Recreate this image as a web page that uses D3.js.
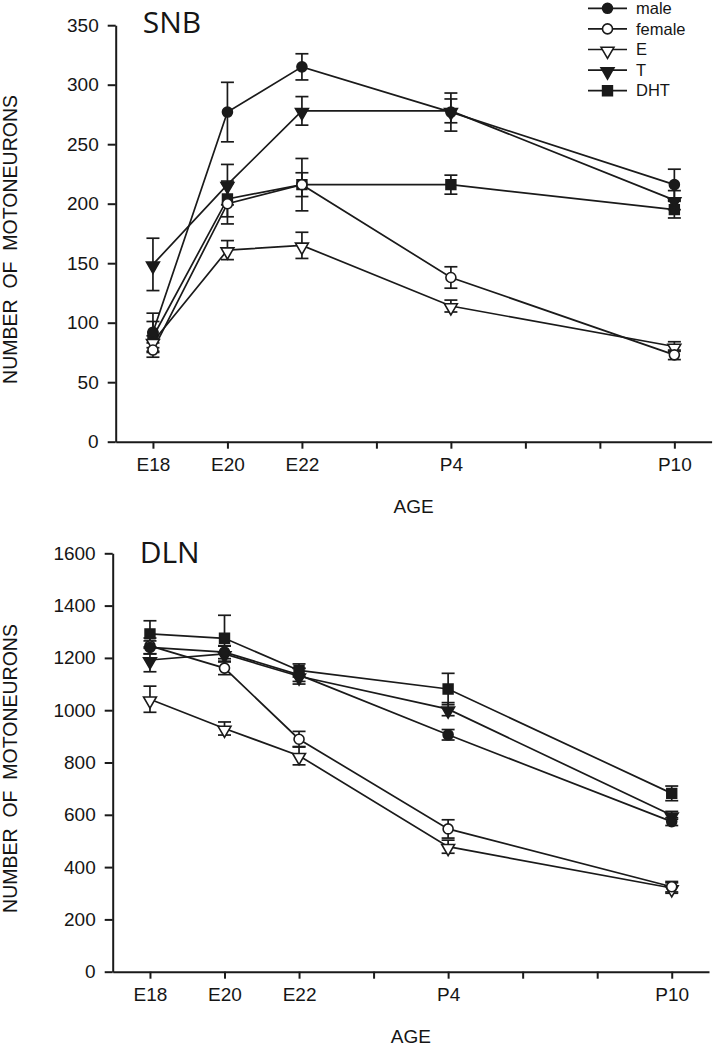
<!DOCTYPE html>
<html>
<head>
<meta charset="utf-8">
<script src="https://cdn.jsdelivr.net/npm/d3@7"></script>
<style>
  body { margin: 0; background: #fff; }
  svg { display: block; }
  text { font-family: "Liberation Sans", Arial, sans-serif; fill: #151515; }
  .title { font-family: "Open Sans", "Liberation Sans", sans-serif; }
</style>
</head>
<body>
<svg id="chart" width="713" height="1050"></svg>
<script>
// ages on a day axis (E22 = day 0), ticks every 2 days
const ages = ['E18', 'E20', 'E22', 'P4', 'P10'];
const ageDays = [-4, -2, 0, 4, 10];
const tickDays = [-4, -2, 0, 2, 4, 6, 8, 10];
const tickLabels = ['E18', 'E20', 'E22', '', 'P4', '', '', 'P10'];

const groups = ['male', 'female', 'E', 'T', 'DHT'];

// SNB means and error (SEM)
const snbMale = [92, 277, 315, 277, 216];
const snbMaleErr = [16, 25, 11, 16, 13];
const snbFemale = [77, 200, 216, 138, 73];
const snbFemaleErr = [6, 17, 22, 9, 4];
const snbE = [84, 161, 165, 114, 80];
const snbEErr = [5, 8, 11, 5, 4];
const snbT = [149, 216, 278, 278, 203];
const snbTErr = [22, 17, 12, 10, 8];
const snbDHT = [88, 204, 216, 216, 195];
const snbDHTErr = [13, 15, 10, 8, 7];

// DLN means and error
const dlnMale = [1240, 1222, 1135, 906, 574];
const dlnMaleErr = [25, 25, 25, 20, 15];
const dlnFemale = [1246, 1161, 889, 546, 325];
const dlnFemaleErr = [30, 25, 30, 35, 20];
const dlnE = [1042, 930, 826, 478, 320];
const dlnEErr = [50, 25, 35, 25, 20];
const dlnT = [1192, 1215, 1130, 1004, 598];
const dlnTErr = [45, 30, 30, 25, 15];
const dlnDHT = [1292, 1275, 1152, 1081, 682];
const dlnDHTErr = [50, 88, 25, 60, 28];

const ink = '#1a1a1a';

const symbolFor = {
  male: { type: 'circle', fill: ink },
  female: { type: 'circle', fill: '#fff' },
  E: { type: 'tri', fill: '#fff' },
  T: { type: 'tri', fill: ink },
  DHT: { type: 'square', fill: ink }
};

const svg = d3.select('#chart');

const drawMarker = (g, name, x, y) => {
  let s = symbolFor[name];
  if (s.type === 'circle') {
    g.append('circle')
      .attr('cx', x).attr('cy', y).attr('r', 5)
      .attr('fill', s.fill).attr('stroke', ink).attr('stroke-width', 1.6);
  } else {
    let shape = s.type === 'tri' ? d3.symbolTriangle : d3.symbolSquare;
    let size = s.type === 'tri' ? 72 : 96;
    let rot = s.type === 'tri' ? 180 : 0;
    g.append('path')
      .attr('d', d3.symbol().type(shape).size(size)())
      .attr('transform', `translate(${x},${y + (s.type === 'tri' ? 1.5 : 0)}) rotate(${rot})`)
      .attr('fill', s.fill).attr('stroke', ink).attr('stroke-width', 1.6);
  }
};

const drawPanel = (p) => {
  let x = d3.scaleLinear().domain([-5, 11]).range([p.left, p.right]);
  let y = d3.scaleLinear().domain([0, p.yMax]).range([p.bottom, p.top]);
  let g = svg.append('g');

  // axes
  let xAxis = d3.axisBottom(x)
    .tickValues(tickDays)
    .tickFormat((d, i) => tickLabels[i])
    .tickSize(7).tickSizeOuter(0).tickPadding(9);
  let xg = g.append('g').attr('transform', `translate(0,${p.bottom})`).call(xAxis);

  let yAxis = d3.axisLeft(y)
    .tickValues(d3.range(0, p.yMax + 1, p.yStep))
    .tickFormat(d3.format('d'))
    .tickSize(8).tickSizeOuter(0).tickPadding(9);
  let yg = g.append('g').attr('transform', `translate(${p.left},0)`).call(yAxis);

  [xg, yg].forEach(a => {
    a.select('.domain').attr('stroke', ink).attr('stroke-width', 2);
    a.selectAll('.tick line').attr('stroke', ink).attr('stroke-width', 2);
    a.selectAll('.tick text')
      .style('font-family', '"Liberation Sans", Arial, sans-serif')
      .style('font-size', '19px').attr('fill', '#151515');
  });

  // titles
  g.append('text').attr('class', 'title')
    .attr('x', p.left + 27).attr('y', p.titleY)
    .style('font-size', '30px').text(p.name);

  g.append('text')
    .attr('x', (p.left + p.right) / 2).attr('y', p.bottom + 71)
    .attr('text-anchor', 'middle').style('font-size', '19px').text('AGE');

  g.append('text')
    .attr('transform', `translate(17,${(p.top + p.bottom) / 2 + 6}) rotate(-90)`)
    .attr('text-anchor', 'middle').attr('xml:space', 'preserve')
    .style('font-size', '19.5px').style('white-space', 'pre')
    .text('NUMBER  OF  MOTONEURONS');

  // lines
  let line = d3.line().x((d, i) => x(ageDays[i])).y(d => y(d));
  let order = ['DHT', 'T', 'E', 'female', 'male'];
  order.forEach(name => {
    g.append('path').datum(p.series[name].mean)
      .attr('d', line).attr('fill', 'none')
      .attr('stroke', ink).attr('stroke-width', 1.7);
  });

  // error bars
  order.forEach(name => {
    let s = p.series[name];
    s.mean.forEach((m, i) => {
      let cx = x(ageDays[i]);
      let y0 = y(m - s.err[i]), y1 = y(m + s.err[i]);
      g.append('line').attr('x1', cx).attr('x2', cx).attr('y1', y0).attr('y2', y1)
        .attr('stroke', ink).attr('stroke-width', 1.7);
      [y0, y1].forEach(yy => {
        g.append('line').attr('x1', cx - 6.5).attr('x2', cx + 6.5)
          .attr('y1', yy).attr('y2', yy)
          .attr('stroke', ink).attr('stroke-width', 1.7);
      });
    });
  });

  // markers
  order.forEach(name => {
    p.series[name].mean.forEach((m, i) => drawMarker(g, name, x(ageDays[i]), y(m)));
  });
};

drawPanel({
  name: 'SNB', left: 115.7, right: 711.6, top: 25.2, bottom: 441.7,
  yMax: 350, yStep: 50, titleY: 33,
  series: {
    male: { mean: snbMale, err: snbMaleErr },
    female: { mean: snbFemale, err: snbFemaleErr },
    E: { mean: snbE, err: snbEErr },
    T: { mean: snbT, err: snbTErr },
    DHT: { mean: snbDHT, err: snbDHTErr }
  }
});

drawPanel({
  name: 'DLN', left: 112.7, right: 709, top: 553.3, bottom: 971.7,
  yMax: 1600, yStep: 200, titleY: 563.3,
  series: {
    male: { mean: dlnMale, err: dlnMaleErr },
    female: { mean: dlnFemale, err: dlnFemaleErr },
    E: { mean: dlnE, err: dlnEErr },
    T: { mean: dlnT, err: dlnTErr },
    DHT: { mean: dlnDHT, err: dlnDHTErr }
  }
});

// legend (top panel only)
let legend = svg.append('g').attr('transform', 'translate(588,8.3)');
groups.forEach((name, i) => {
  let row = legend.append('g').attr('transform', `translate(0,${i * 20.6})`);
  row.append('line').attr('x1', 0).attr('x2', 39).attr('y1', 0).attr('y2', 0)
    .attr('stroke', ink).attr('stroke-width', 1.7);
  drawMarker(row, name, 19.5, 0);
  row.append('text').attr('x', 48).attr('y', 0).attr('dy', '0.35em')
    .style('font-size', '16.5px').text(name);
});
</script>
</body>
</html>
